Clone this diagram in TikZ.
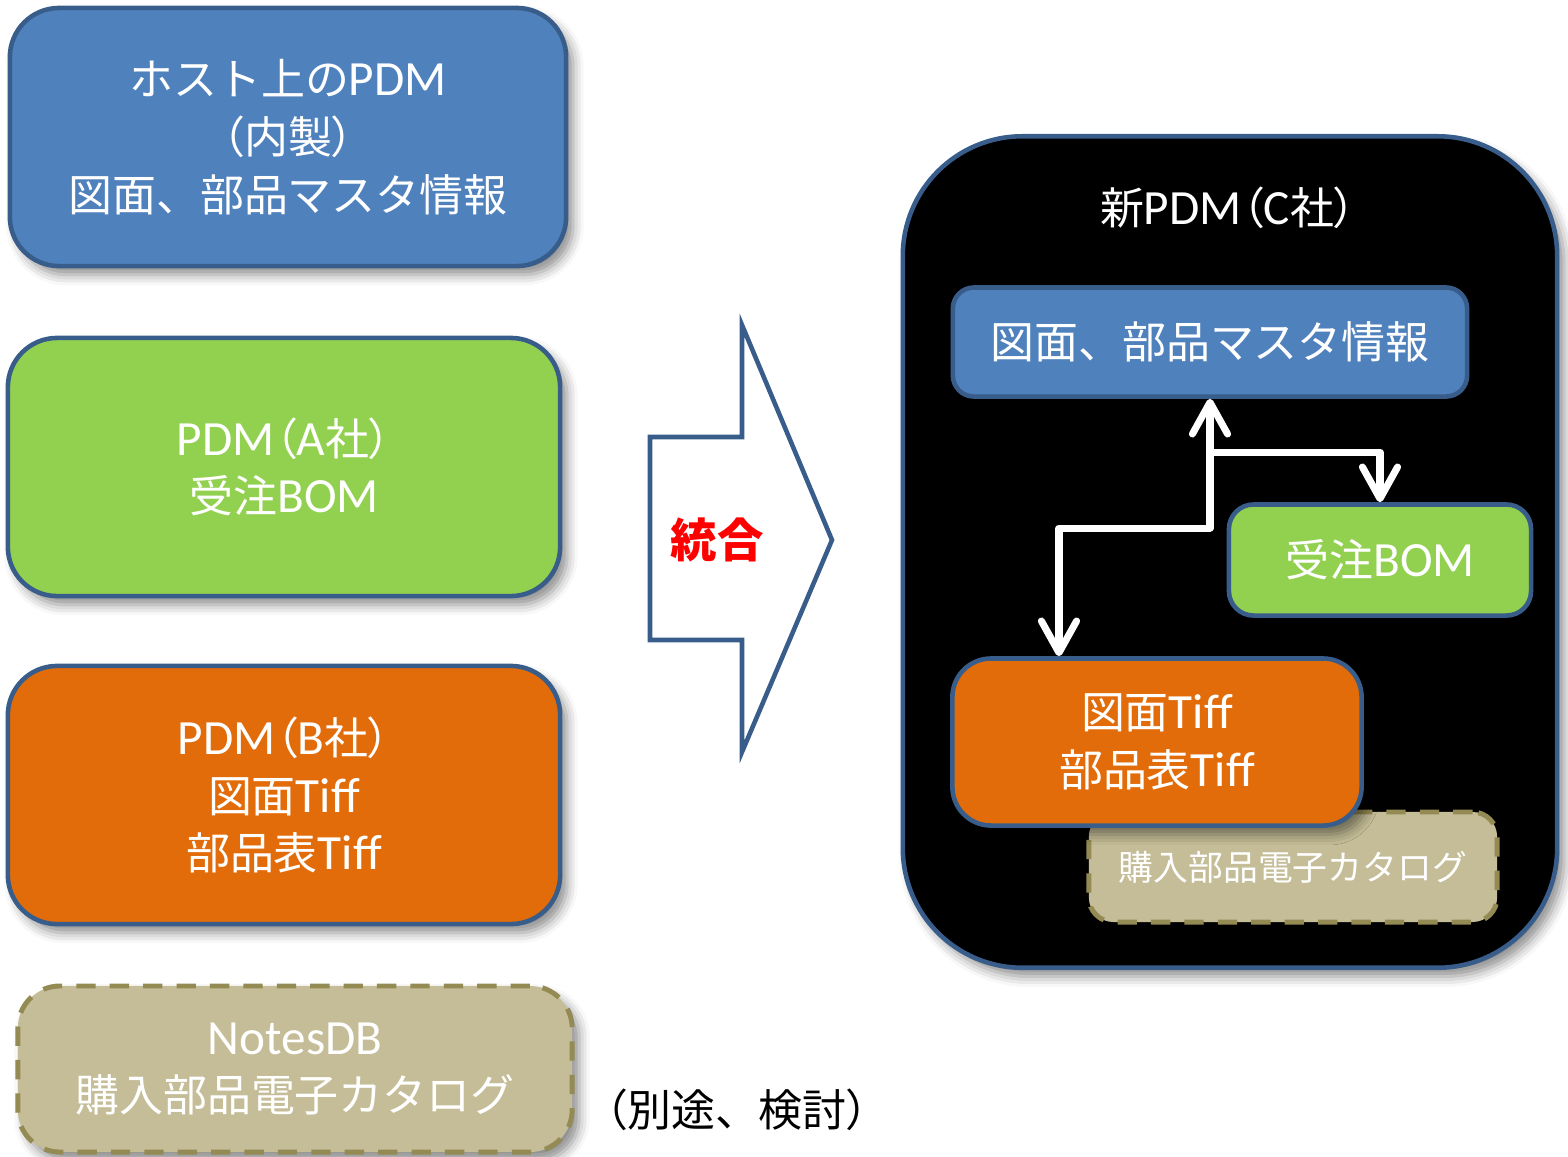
\documentclass[tikz,border=0pt]{standalone}
\usepackage{fontspec}
\setmainfont{Noto Sans CJK JP}
\newfontfamily\lat{Carlito}[Scale=1.12]
\newcommand\plp{{\addfontfeature{RawFeature=+palt}（}}
\newcommand\prp{{\addfontfeature{RawFeature=+palt}）}}
\usetikzlibrary{arrows.meta,shadows.blur}
\definecolor{bfill}{HTML}{4F81BD}
\definecolor{bline}{HTML}{385D8A}
\definecolor{gfill}{HTML}{92D050}
\definecolor{ofill}{HTML}{E36C0A}
\definecolor{tfill}{HTML}{C4BD97}
\definecolor{tline}{HTML}{948A54}
\tikzset{
  shd/.style={blur shadow={shadow xshift=2pt,shadow yshift=-2.5pt,shadow blur radius=3pt,shadow opacity=45}},
  bigtxt/.style={font=\fontsize{12.5}{16.4}\selectfont, text=white, align=center},
  box/.style={draw=bline, line width=1.3pt, inner sep=0pt, shd, bigtxt},
  tanbox/.style={draw=tline, fill=tfill, line width=1.4pt, dash pattern=on 5.5pt off 4pt, inner sep=0pt, shd, bigtxt},
  conn/.style={draw=white, line width=2pt, line join=round},
  barb/.tip={Straight Barb[length=9pt,width=10pt,line cap=round,line join=round]}
}
\begin{document}
\begin{tikzpicture}[x=0.01cm,y=-0.01cm]
\useasboundingbox (0,0) rectangle (1568,1156);
% left boxes
\node[box, fill=bfill, rounded corners=14pt, minimum width=5.56cm, minimum height=2.58cm] (host) at (288,137)
  {ホスト上の{\lat PDM}\\\plp 内製\prp\\図面、部品マスタ情報};
\node[box, fill=gfill, rounded corners=14pt, minimum width=5.52cm, minimum height=2.58cm] (pa) at (284,467)
  {{\lat PDM}\plp{\lat A}社\prp\\受注{\lat BOM}};
\node[box, fill=ofill, rounded corners=14pt, minimum width=5.52cm, minimum height=2.58cm] (pb) at (284,795)
  {{\lat PDM}\plp{\lat B}社\prp\\図面{\lat Tiff}\\部品表{\lat Tiff}};
\node[tanbox, rounded corners=12pt, minimum width=5.54cm, minimum height=1.66cm] (nd) at (295,1069)
  {{\lat NotesDB}\\購入部品電子カタログ};
\node[font=\fontsize{12.5}{14}\selectfont, text=black, anchor=center] (bet) at (737,1110) {\plp 別途、検討\prp};
% big arrow
\draw[draw=bline, fill=white, line width=1.3pt, line join=miter]
  (650,437) -- (742,437) -- (742,325) -- (832,540) -- (742,752) -- (742,640) -- (650,640) -- cycle;
\node[font=\fontsize{13.2}{15}\selectfont\bfseries, text=red] (tg) at (717,540) {統合};
% new PDM container
\node[draw=bline, fill=black, line width=1.3pt, rounded corners=34pt, minimum width=6.54cm, minimum height=8.31cm, inner sep=0pt, shd] (cpdm) at (1230,552) {};
\node[bigtxt] (ctitle) at (1228,208) {新{\lat PDM}\plp{\lat C}社\prp};
\node[box, fill=bfill, rounded corners=6pt, minimum width=5.14cm, minimum height=1.09cm] (ib) at (1210,342) {図面、部品マスタ情報};
\node[box, fill=gfill, rounded corners=7pt, minimum width=3.02cm, minimum height=1.11cm] (ig) at (1380,560) {受注{\lat BOM}};
\node[tanbox, rounded corners=7pt, minimum width=4.08cm, minimum height=1.10cm, font=\fontsize{9.9}{12}\selectfont] (it) at (1293,867) {購入部品電子カタログ};
\node[box, fill=ofill, rounded corners=11pt, minimum width=4.09cm, minimum height=1.67cm] (io) at (1157,742) {図面{\lat Tiff}\\部品表{\lat Tiff}};
% connectors
\coordinate (j1) at (1210,528);
\coordinate (j2) at (1059,528);
\coordinate (j3) at (1210,452);
\coordinate (j4) at (1380,452);
\draw[conn, {barb}-{barb}] (j1 |- ib.south) -- (j1) -- (j2) -- (j2 |- io.north);
\draw[conn, -{barb}] (j3) -- (j4) -- (ig.north);
\end{tikzpicture}
\end{document}
